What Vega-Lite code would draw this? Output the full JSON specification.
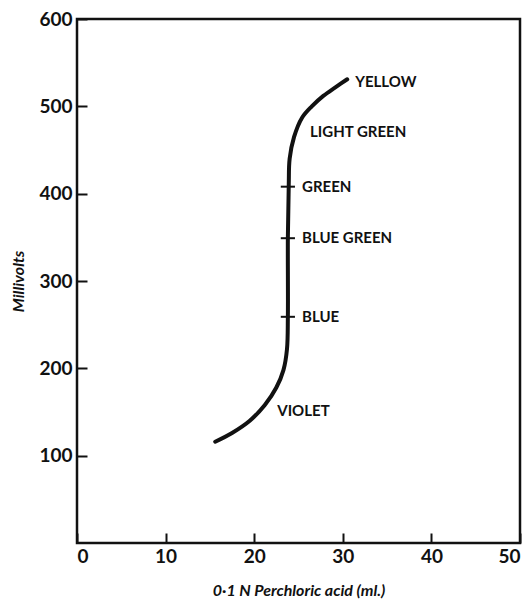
{
  "$schema": "https://vega.github.io/schema/vega-lite/v6.json",
  "width": 443,
  "height": 524,
  "autosize": {"type": "none"},
  "padding": {"left": 77, "top": 19, "right": 12, "bottom": 66},
  "background": "white",
  "config": {
    "view": {"stroke": "#111", "strokeWidth": 2.5},
    "axis": {
      "domain": false,
      "grid": false,
      "tickColor": "#111",
      "tickWidth": 2,
      "tickSize": 10,
      "offset": -10,
      "labelFont": "Lato",
      "labelFontWeight": "bold",
      "labelFontSize": 19,
      "labelColor": "#111",
      "titleFont": "Lato",
      "titleFontWeight": "bold",
      "titleFontStyle": "italic",
      "titleFontSize": 16,
      "titleColor": "#111"
    }
  },
  "datasets": {
    "curve": [
      {"ml": 15.6, "mv": 116, "o": 1},
      {"ml": 17.5, "mv": 126, "o": 2},
      {"ml": 19.5, "mv": 140, "o": 3},
      {"ml": 21.2, "mv": 158, "o": 4},
      {"ml": 22.5, "mv": 178, "o": 5},
      {"ml": 23.3, "mv": 198, "o": 6},
      {"ml": 23.7, "mv": 222, "o": 7},
      {"ml": 23.8, "mv": 260, "o": 8},
      {"ml": 23.8, "mv": 350, "o": 9},
      {"ml": 23.9, "mv": 410, "o": 10},
      {"ml": 24.0, "mv": 440, "o": 11},
      {"ml": 24.5, "mv": 465, "o": 12},
      {"ml": 25.4, "mv": 487, "o": 13},
      {"ml": 26.5, "mv": 500, "o": 14},
      {"ml": 27.8, "mv": 512, "o": 15},
      {"ml": 29.2, "mv": 522, "o": 16},
      {"ml": 30.5, "mv": 531, "o": 17}
    ],
    "marks": [
      {"x1": 23.0, "x2": 24.6, "mv": 259},
      {"x1": 23.0, "x2": 24.6, "mv": 349},
      {"x1": 23.0, "x2": 24.6, "mv": 408}
    ],
    "labels": [
      {"ml": 25.4, "mv": 259, "label": "BLUE"},
      {"ml": 25.4, "mv": 349, "label": "BLUE GREEN"},
      {"ml": 25.4, "mv": 408, "label": "GREEN"},
      {"ml": 26.3, "mv": 471, "label": "LIGHT GREEN"},
      {"ml": 31.4, "mv": 528, "label": "YELLOW"},
      {"ml": 22.6, "mv": 151, "label": "VIOLET"}
    ]
  },
  "layer": [
    {
      "data": {"name": "curve"},
      "mark": {"type": "line", "interpolate": "catmull-rom", "color": "#111", "strokeWidth": 4, "strokeCap": "round"},
      "encoding": {
        "x": {
          "field": "ml", "type": "quantitative",
          "scale": {"domain": [0, 50], "nice": false},
          "axis": {"values": [0, 10, 20, 30, 40, 50], "labelPadding": 4, "title": "0·1 N  Perchloric acid (ml.)", "titlePadding": 16}
        },
        "y": {
          "field": "mv", "type": "quantitative",
          "scale": {"domain": [0, 600], "nice": false},
          "axis": {"values": [100, 200, 300, 400, 500, 600], "labelPadding": 5, "title": "Millivolts", "titlePadding": 12}
        },
        "order": {"field": "o", "type": "quantitative"}
      }
    },
    {
      "data": {"name": "marks"},
      "mark": {"type": "rule", "color": "#111", "strokeWidth": 2},
      "encoding": {
        "x": {"field": "x1", "type": "quantitative"},
        "x2": {"field": "x2"},
        "y": {"field": "mv", "type": "quantitative"}
      }
    },
    {
      "data": {"name": "labels"},
      "mark": {"type": "text", "align": "left", "baseline": "middle", "font": "Lato", "fontWeight": "bold", "fontSize": 15, "color": "#111"},
      "encoding": {
        "x": {"field": "ml", "type": "quantitative"},
        "y": {"field": "mv", "type": "quantitative"},
        "text": {"field": "label"}
      }
    }
  ]
}
